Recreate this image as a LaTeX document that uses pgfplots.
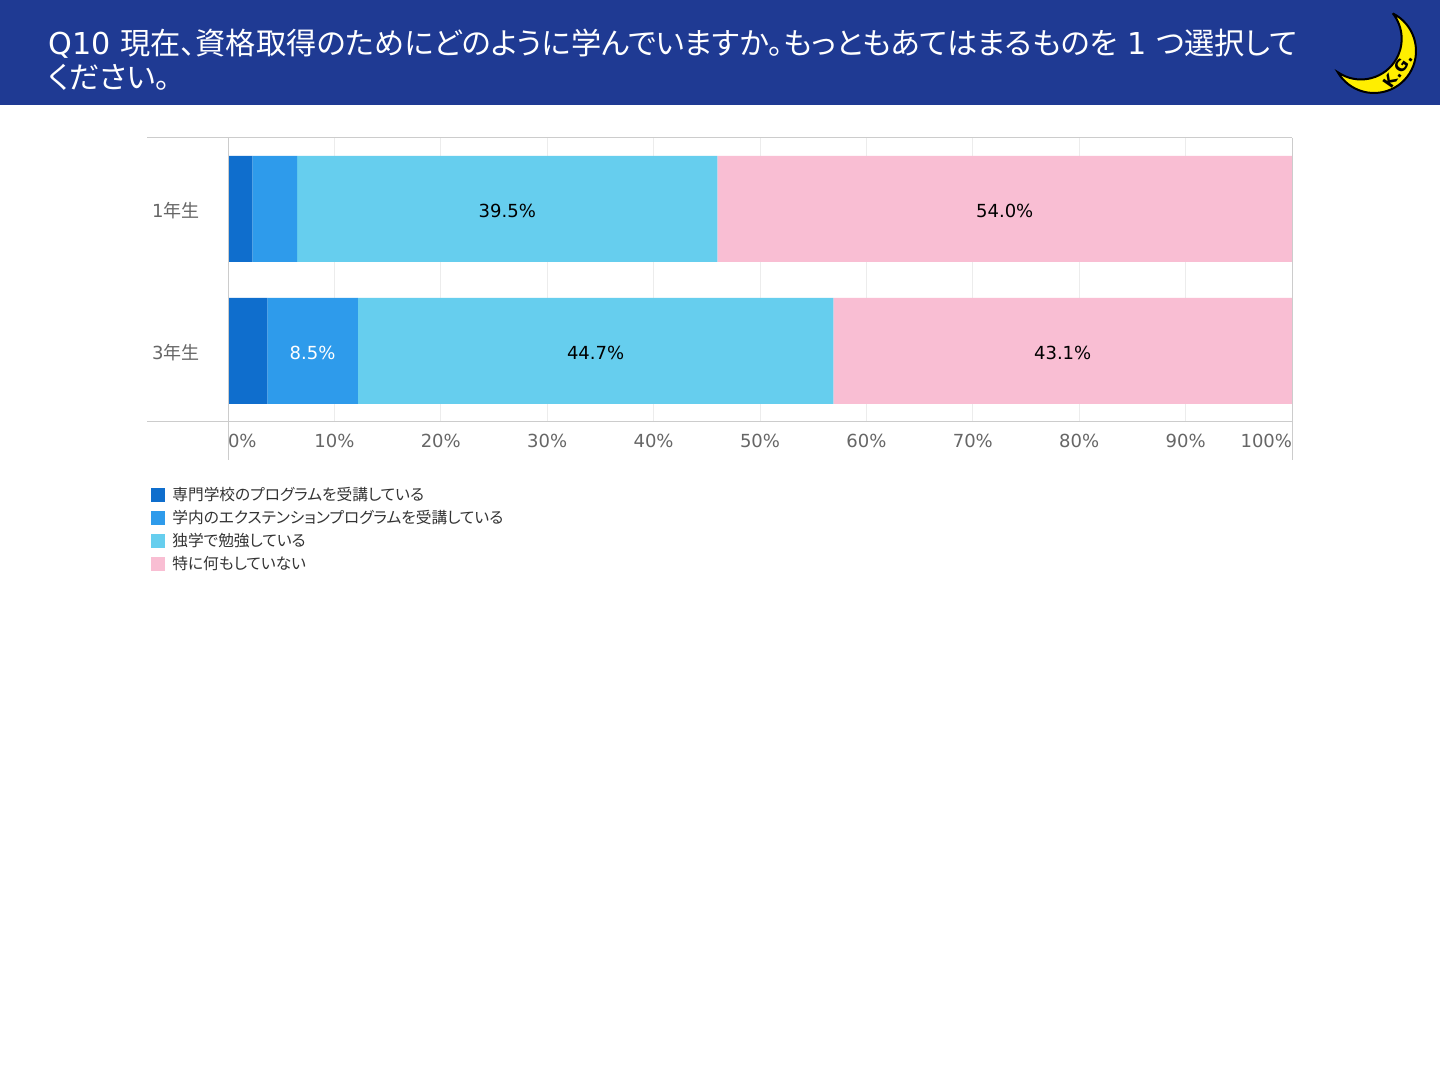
\documentclass[border=0pt]{standalone}
\usepackage{pgfplots}
\pgfplotsset{compat=1.18}
\usepackage{fontspec}
\setmainfont{DejaVu Sans}
\newfontfamily\jp{Noto Sans CJK JP}[RawFeature=+palt]
\definecolor{hdr}{RGB}{31,58,147}
\definecolor{c1}{RGB}{15,110,205}
\definecolor{c2}{RGB}{46,155,235}
\definecolor{c3}{RGB}{102,206,238}
\definecolor{c4}{RGB}{249,190,211}
\definecolor{gridc}{RGB}{236,236,236}
\definecolor{axc}{RGB}{204,204,204}
\definecolor{tickc}{RGB}{102,102,102}
\definecolor{legc}{RGB}{51,51,51}
\definecolor{moon}{RGB}{255,238,0}
\begin{document}
\begin{tikzpicture}
\useasboundingbox (0,0) rectangle (720pt,-540pt);
\fill[white] (0,0) rectangle (720pt,-540pt);
\fill[hdr] (0,0) rectangle (720pt,-52.5pt);
\begin{scope}[x=0.5pt,y=-0.5pt]
  \node[anchor=base west, text=white, inner sep=0pt,
        font=\fontsize{15.1pt}{17.5pt}\selectfont] at (48,55)
    {Q10 {\jp 現在、資格取得のためにどのように学んでいますか。もっともあてはまるものを} 1 {\jp つ選択して}};
  \node[anchor=base west, text=white, inner sep=0pt,
        font=\fontsize{15.1pt}{17.5pt}\selectfont] at (48,89)
    {{\jp ください。}};
  % moon logo
  \filldraw[fill=moon, draw=black, line width=1pt]
    (1374,51) ++(-63.4:42) arc[start angle=-63.4, end angle=149.7, radius=42]
    arc[start angle=124.8, end angle=-38.8, radius=40.7] -- cycle;
  \node[rotate=55, font=\bfseries\fontsize{8pt}{8pt}\selectfont, inner sep=0pt] at (1398,71) {K.G.};
\end{scope}
\begin{axis}[
  at={(114pt,-69pt)}, anchor=north west,
  scale only axis, width=532pt, height=142pt,
  xbar stacked, bar width=53pt,
  legend image code/.code={\fill[#1] (0pt,-3.5pt) rectangle (7pt,3.5pt);},
  xmin=0, xmax=100, ymin=-0.5, ymax=1.5,
  ytick={0,1}, yticklabels={3{\jp 年生},1{\jp 年生}},
  xtick={0,10,...,100},
  /pgf/number format/assume math mode=true,
  xticklabel={\ifnum\ticknum=0 \rlap{0\%}\else\ifnum\ticknum=10 \llap{100\%}\else\pgfmathprintnumber{\tick}\%\fi\fi},
  ticklabel style={font=\fontsize{9pt}{11pt}\selectfont, text=tickc},
  xticklabel style={anchor=north, inner sep=0pt, yshift=-6pt},
  yticklabel style={anchor=east, inner sep=0pt, xshift=-14pt, yshift=-1pt},
  tick style={draw=none},
  axis line style={draw=none},
  xmajorgrids, grid style={color=gridc, line width=0.5pt},
  visualization depends on={rawx \as \rawx},
  nodes near coords={\ifdim\rawx pt>5pt \pgfmathprintnumber[fixed,fixed zerofill,precision=1]{\rawx}\%\fi},
  every node near coord/.append style={anchor=center, yshift=-1pt, font=\fontsize{9pt}{11pt}\selectfont, text=black},
  legend style={at={(-0.0724,-0.2256)}, anchor=north west, draw=none, fill=none, inner sep=0pt,
     row sep=3pt, nodes={inner sep=0pt, text height=7pt, text depth=1.5pt, text=legc,
     font=\jp\fontsize{7.85pt}{10pt}\selectfont},
     /tikz/every odd column/.append style={column sep=3.5pt}},
  legend cell align=left,
]
\addplot[fill=c1, draw=none] coordinates {(2.3,1) (3.7,0)};
\addplot[fill=c2, draw=none, nodes near coords style={text=white}] coordinates {(4.2,1) (8.5,0)};
\addplot[fill=c3, draw=none] coordinates {(39.5,1) (44.7,0)};
\addplot[fill=c4, draw=none] coordinates {(54.0,1) (43.1,0)};
\legend{専門学校のプログラムを受講している, 学内のエクステンションプログラムを受講している, 独学で勉強している, 特に何もしていない}
\end{axis}
\begin{scope}[x=0.5pt,y=-0.5pt, axc, line width=0.5pt]
  \draw (147,138) -- (1292,138);
  \draw (147,422) -- (1292,422);
  \draw (228,138) -- (228,460);
  \draw (1292,138) -- (1292,460);
\end{scope}
\end{tikzpicture}
\end{document}
